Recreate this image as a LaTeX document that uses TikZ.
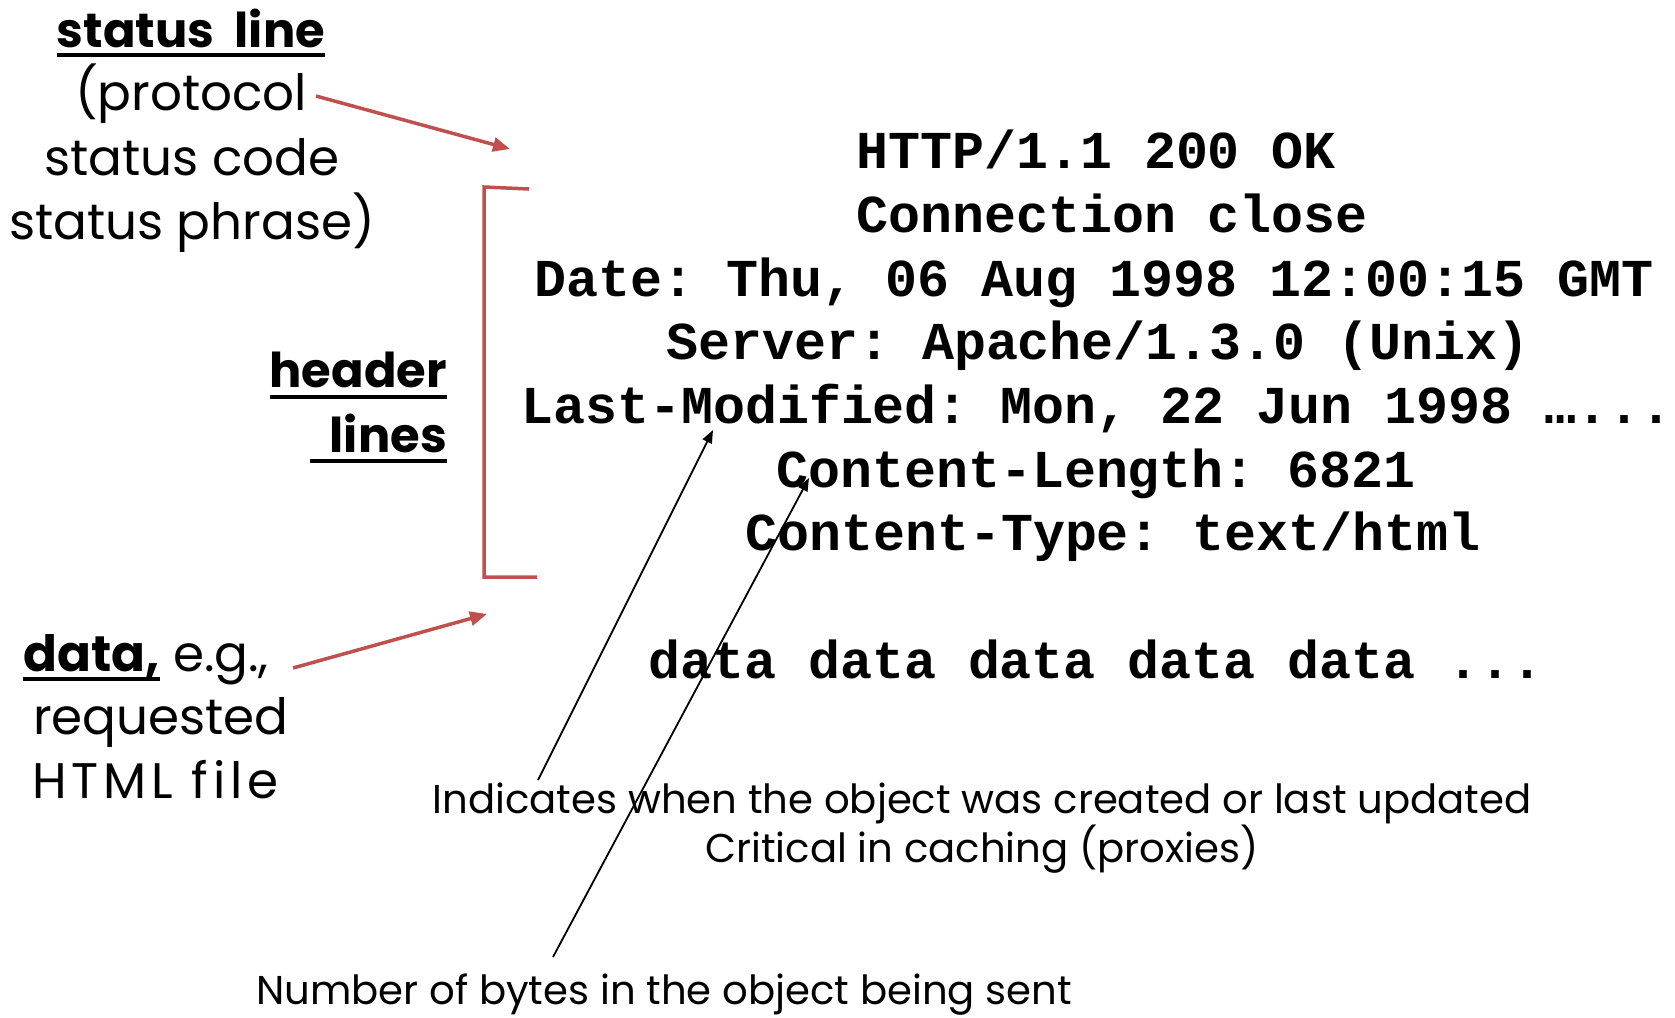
\documentclass[tikz,border=0pt]{standalone}
\usepackage{fontspec}
\setmainfont{Poppins}
\setmonofont{Liberation Mono}
\usetikzlibrary{arrows.meta}
\definecolor{accentred}{HTML}{C0504D}
% underline with a chosen drop below the baseline
\newcommand\ulword[2][-12pt]{\leavevmode\setbox0=\hbox{#2}\rlap{\rule[#1]{\wd0}{4pt}}\box0\relax}
\tikzset{
  lbl/.style={inner sep=0pt, font=\fontsize{50}{60}\selectfont},
  lblb/.style={inner sep=0pt, font=\fontsize{48}{58}\selectfont\bfseries},
  codeline/.style={inner sep=0pt, anchor=base west, font=\fontsize{53.3}{64}\selectfont\ttfamily\bfseries},
  note/.style={inner sep=0pt, font=\fontsize{40.2}{48}\selectfont},
  redarrow/.style={draw=accentred, line width=3.5pt, -{Triangle[length=17pt,width=14pt]}},
  bracketline/.style={draw=accentred, line width=3.5pt},
  blackarrow/.style={draw=black, line width=1.8pt, -{Triangle[length=13pt,width=10pt]}}
}
\begin{document}
\begin{tikzpicture}[x=1pt,y=-1pt]
\useasboundingbox[fill=white] (0,0) rectangle (1675,1017);

% left-hand labels
\node[lblb, anchor=base] (stline) at (191,47) {\ulword[-10pt]{status\ \ line}};
\node[lbl, anchor=base] (proto) at (191,110) {(protocol};
\node[lbl, anchor=base] (scode) at (192,175) {status code};
\node[lbl, anchor=base] (sphrase) at (192,239) {status phrase)};
\node[lblb, anchor=base east] (hdr) at (447,387) {\ulword[-12pt]{header}};
\node[lblb, anchor=base east] (lns) at (447,452) {\ulword[-11pt]{\hspace*{20pt}lines}};
\node[lbl, anchor=base west] (dat) at (23,671) {\ulword[-10pt]{\bfseries data,} e.g.,};
\node[lbl, anchor=base west] (req) at (33,734) {requested};
\node[lbl, anchor=base west] (html) at (32,798) {\addfontfeature{LetterSpace=10}HTML file};

% the response message
\node[codeline] (l1) at (856,168) {HTTP/1.1 200 OK};
\node[codeline] (l2) at (856,232) {Connection close};
\node[codeline] (l3) at (534,296) {Date: Thu, 06 Aug 1998 12:00:15 GMT};
\node[codeline] (l4) at (666,359) {Server: Apache/1.3.0 (Unix)};
\node[codeline] (l5) at (521,423) {Last-Modified: Mon, 22 Jun 1998 …...};
\node[codeline] (l6) at (776,487) {Content-Length: 6821};
\node[codeline] (l7) at (745,550) {Content-Type: text/html};
\node[codeline] (l8) at (648,678) {data data data data data ...};

% notes
\node[note, anchor=base] (n1) at (982,813) {Indicates when the object was created or last updated};
\node[note, anchor=base] (n2) at (982,862) {Critical in caching (proxies)};
\node[note, anchor=base west] (n3) at (256,1004) {Number of bytes in the object being sent};

% arrow end points
\coordinate (protoEnd) at (316,96);
\coordinate (statusTip) at (510,149);
\coordinate (dataEnd) at (293,668);
\coordinate (dataTip) at (487,614);
\coordinate (modTail) at (538,780);
\coordinate (modTip) at (713,430);
\coordinate (lenTail) at (553,957);
\coordinate (lenTip) at (809,478);
\coordinate (brTopEnd) at (529,189);
\coordinate (brTop) at (484,187);
\coordinate (brBot) at (484,577);
\coordinate (brBotEnd) at (537,577);

% header bracket
\draw[bracketline] (brTopEnd) -- (brTop) -- (brBot) -- (brBotEnd);

% connectors
\draw[redarrow] (protoEnd) -- (statusTip);
\draw[redarrow] (dataEnd) -- (dataTip);
\draw[blackarrow] (modTail) -- (modTip);
\draw[blackarrow] (lenTail) -- (lenTip);
\end{tikzpicture}
\end{document}
